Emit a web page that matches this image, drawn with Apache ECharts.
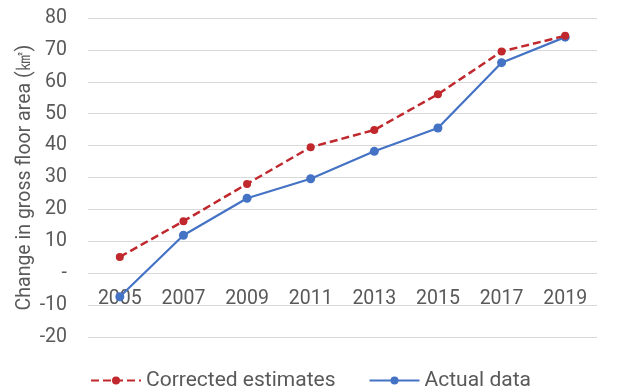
<!DOCTYPE html>
<html>
<head>
<meta charset="utf-8">
<script src="https://cdn.jsdelivr.net/npm/echarts@6/dist/echarts.min.js"></script>
<style>
  html, body { margin: 0; padding: 0; background: #fff; }
  #chart { width: 617px; height: 387px; }
</style>
</head>
<body>
<div id="chart"></div>
<script>
// Years on the category axis
const years = ['2005', '2007', '2009', '2011', '2013', '2015', '2017', '2019'];
// Change in gross floor area (km²)
const correctedEstimates = [5.1, 16.3, 28.0, 39.5, 44.9, 56.1, 69.5, 74.4];
const actualData = [-7.4, 11.9, 23.5, 29.6, 38.2, 45.5, 66.0, 74.0];

const chart = echarts.init(document.getElementById('chart'));
const textColor = '#595959';
const font = 'Roboto';
const gridTop = 18;
const gridBottom = 50;

chart.setOption({
  animation: false,
  grid: { left: 88, right: 20, top: gridTop, bottom: gridBottom },
  legend: {
    top: 365,
    left: 85,
    itemWidth: 50,
    itemHeight: 10,
    itemGap: 33,
    textStyle: { color: textColor, fontSize: 21, fontFamily: font },
    data: ['Corrected estimates', 'Actual data']
  },
  xAxis: {
    type: 'category',
    data: years,
    boundaryGap: true,
    position: 'bottom',
    axisLine: { show: false, onZero: false },
    axisTick: { show: false },
    axisLabel: { color: textColor, fontSize: 19.5, fontFamily: font, margin: 16 }
  },
  yAxis: {
    type: 'value',
    min: -20,
    max: 80,
    interval: 10,
    name: 'Change in gross floor area (㎢)',
    nameLocation: 'middle',
    nameMoveOverlap: false,
    nameGap: 53,
    nameTextStyle: { color: textColor, fontSize: 19.5, fontFamily: font },
    axisLine: { show: false },
    axisTick: { show: false },
    axisLabel: {
      color: textColor, fontSize: 19.5, fontFamily: font, margin: 21,
      formatter: v => (v === 0 ? '-' : String(v))
    },
    splitLine: { lineStyle: { color: '#d9d9d9', width: 1.2 } }
  },
  series: [
    {
      name: 'Corrected estimates',
      type: 'line',
      data: correctedEstimates,
      symbol: 'circle',
      symbolSize: 8,
      lineStyle: { color: '#c0282d', width: 2.5, type: [8, 4] },
      itemStyle: { color: '#c0282d' },
      z: 3
    },
    {
      name: 'Actual data',
      type: 'line',
      data: actualData,
      symbol: 'circle',
      symbolSize: 9,
      lineStyle: { color: '#4472c4', width: 2.2 },
      itemStyle: { color: '#4472c4' },
      z: 2
    }
  ]
});

// Lift the category labels so they sit just under the zero line
const zeroY = chart.convertToPixel({ yAxisIndex: 0 }, 0);
const plotBottomY = chart.getHeight() - gridBottom;
chart.setOption({ xAxis: { offset: zeroY - plotBottomY } });
</script>
</body>
</html>
